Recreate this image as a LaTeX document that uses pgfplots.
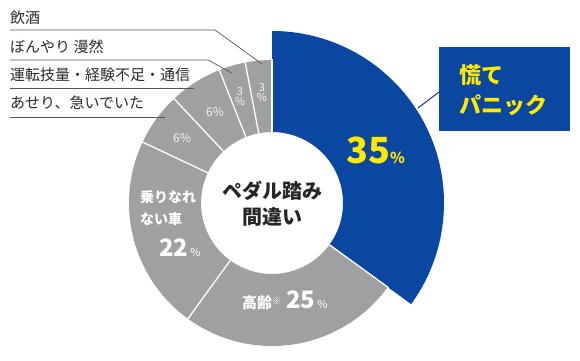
\documentclass[border=0pt]{standalone}
\usepackage{pgfplots}
\pgfplotsset{compat=1.18}
\usepackage{pgfplotstable}
\usepackage{fontspec}
\setmainfont{Noto Sans CJK JP}
\definecolor{pblue}{HTML}{0A47A1}
\definecolor{pgray}{HTML}{A0A0A2}
\definecolor{pyellow}{HTML}{FFE900}
\definecolor{ptext}{HTML}{2A2A2A}
\definecolor{pline}{HTML}{555555}
\definecolor{pnavy}{HTML}{1E2F75}
\pgfplotstableread{
share
35
25
22
6
6
3
3
}\slices
\newcommand{\fs}[1]{\fontsize{#1}{#1}\selectfont}
\begin{document}
\begin{tikzpicture}
\begin{axis}[x=1pt,y=1pt,xmin=0,xmax=580,ymin=0,ymax=360,hide axis,scale only axis,clip=false]
\path (axis cs:0,0) -- (axis cs:580,360);
\pgfplotsextra{
  \def\cx{272}\def\cy{157}\def\rin{71}
  \gdef\cum{0}
  \foreach \i in {0,...,6}{
    \pgfplotstablegetelem{\i}{share}\of\slices
    \let\sh\pgfplotsretval
    \pgfmathsetmacro\aS{90-3.6*\cum}
    \pgfmathsetmacro\aE{90-3.6*(\cum+\sh)}
    \ifnum\i=0 \def\R{172}\def\fc{pblue}\else\def\R{143}\def\fc{pgray}\fi
    \pgfmathsetmacro\xa{\cx+\R*cos(\aS)}
    \pgfmathsetmacro\ya{\cy+\R*sin(\aS)}
    \pgfmathsetmacro\xb{\cx+\rin*cos(\aE)}
    \pgfmathsetmacro\yb{\cy+\rin*sin(\aE)}
    \fill[\fc] (axis cs:\xa,\ya) arc[start angle=\aS,end angle=\aE,radius=\R pt] -- (axis cs:\xb,\yb) arc[start angle=\aE,end angle=\aS,radius=\rin pt] -- cycle;
    \pgfmathsetmacro\newcum{\cum+\sh}
    \xdef\cum{\newcum}
  }
  \gdef\cum{0}
  \foreach \i in {0,...,6}{
    \pgfplotstablegetelem{\i}{share}\of\slices
    \let\sh\pgfplotsretval
    \pgfmathsetmacro\aS{90-3.6*\cum}
    \pgfmathsetmacro\xa{\cx+\rin*cos(\aS)}
    \pgfmathsetmacro\ya{\cy+\rin*sin(\aS)}
    \pgfmathsetmacro\xb{\cx+144*cos(\aS)}
    \pgfmathsetmacro\yb{\cy+144*sin(\aS)}
    \draw[white,line width=1.3pt] (axis cs:\xa,\ya) -- (axis cs:\xb,\yb);
    \pgfmathsetmacro\newcum{\cum+\sh}
    \xdef\cum{\newcum}
  }
}
% left labels and leader lines
\draw[pline,line width=0.7pt] (axis cs:10,330) -- (axis cs:215,330) -- (axis cs:262,296);
\draw[pline,line width=0.7pt] (axis cs:10,300) -- (axis cs:208,300) -- (axis cs:232,287);
\draw[pline,line width=0.7pt] (axis cs:10,272) -- (axis cs:194,272);
\draw[pline,line width=0.7pt] (axis cs:10,243) -- (axis cs:165,243);
\node[anchor=west,text=ptext,inner sep=0pt,font=\fs{15}] at (axis cs:10,342) {飲酒};
\node[anchor=west,text=ptext,inner sep=0pt,font=\fs{15}] at (axis cs:10,313) {ぼんやり 漫然};
\node[anchor=west,text=ptext,inner sep=0pt,font=\fs{15}] at (axis cs:10,285) {運転技量・経験不足・通信};
\node[anchor=west,text=ptext,inner sep=0pt,font=\fs{15}] at (axis cs:10,257) {あせり、急いでいた};
% small wedge labels
\node[text=white!92!gray,align=center,inner sep=0pt,font=\fs{11}] at (axis cs:262,267) {3\\[-1pt]\%};
\node[text=white!92!gray,align=center,inner sep=0pt,font=\fs{11}] at (axis cs:240,263) {3\\[-1pt]\%};
\node[text=white!92!gray,inner sep=0pt,font=\fs{12}] at (axis cs:215,248) {6\%};
\node[text=white!92!gray,inner sep=0pt,font=\fs{12}] at (axis cs:182,222) {6\%};
% 乗りなれない車
\node[anchor=west,text=white,inner sep=0pt,font=\bfseries\fs{14}] at (axis cs:140,163) {乗りなれ};
\node[anchor=west,text=white,inner sep=0pt,font=\bfseries\fs{14}] at (axis cs:140,141) {ない車};
\node[anchor=base west,text=white,inner sep=0pt,font=\bfseries\fs{24}] at (axis cs:159,104) {22{\mdseries\fs{11}\,\%}};
% 高齢
\node[anchor=base west,text=white,inner sep=0pt,font=\bfseries\fs{15}] at (axis cs:242,52) {高齢{\mdseries\fs{9}\raisebox{4pt}{※}}\hspace{5pt}{\fs{24}25}{\mdseries\fs{11}\,\%}};
% 35%
\node[anchor=base west,text=pyellow,inner sep=0pt,font=\bfseries\fs{36}] at (axis cs:346,197) {35{\fs{15}\%}};
% centre
\node[text=black!85,inner sep=0pt,font=\bfseries\fs{20}] at (axis cs:272,169) {ペダル踏み};
\node[text=black!85,inner sep=0pt,font=\bfseries\fs{20}] at (axis cs:272,143) {間違い};
% callout
\draw[pnavy,line width=1pt] (axis cs:439,268) -- (axis cs:418,252);
\fill[pblue] (axis cs:439,229) rectangle (axis cs:570,313);
\node[anchor=west,text=pyellow,inner sep=0pt,font=\bfseries\fs{22}] at (axis cs:459,285) {慌て};
\node[anchor=west,text=pyellow,inner sep=0pt,font=\bfseries\fs{22}] at (axis cs:459,255) {パニック};
\end{axis}
\end{tikzpicture}
\end{document}
